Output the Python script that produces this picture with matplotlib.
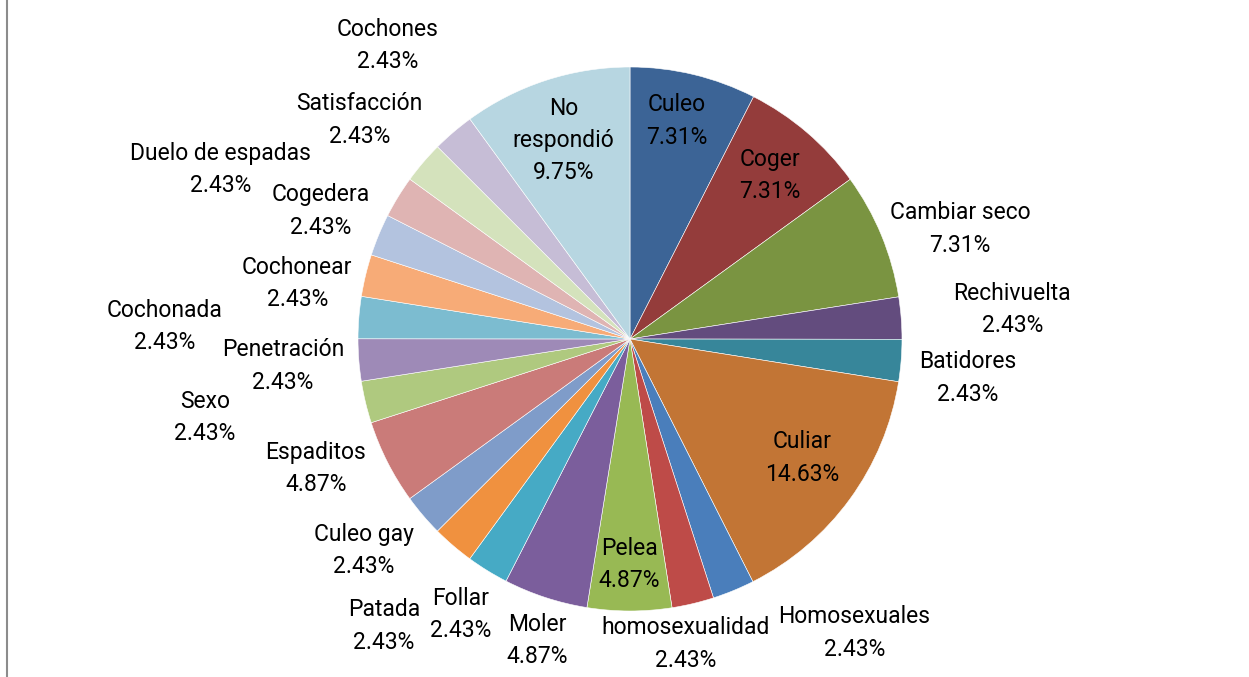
import math

import matplotlib
matplotlib.use("Agg")
import matplotlib.pyplot as plt
from matplotlib.lines import Line2D

# Survey answers (share of respondents, %), clockwise from 12 o'clock
labels = ["Culeo", "Coger", "Cambiar seco", "Rechivuelta", "Batidores", "Culiar",
          "Homosexuales", "homosexualidad", "Pelea", "Moler", "Follar", "Patada",
          "Culeo gay", "Espaditos", "Sexo", "Penetración", "Cochonada", "Cochonear",
          "Cogedera", "Duelo de espadas", "Satisfacción", "Cochones", "No respondió"]
values = [7.31, 7.31, 7.31, 2.43, 2.43, 14.63,
          2.43, 2.43, 4.87, 4.87, 2.43, 2.43,
          2.43, 4.87, 2.43, 2.43, 2.43, 2.43,
          2.43, 2.43, 2.43, 2.43, 9.75]

colors = ["#3C6496", "#943C3B", "#7A9441", "#634C7E", "#37869A", "#C27535",
          "#4A7EBB", "#BE4B48", "#98B954", "#7B5E9C", "#46AAC5", "#F0913F",
          "#7F9CC9", "#CA7B79", "#AFC97F", "#9E8AB7", "#7CBCD0", "#F7AB77",
          "#B3C3DF", "#DFB4B3", "#D4E2BC", "#C6BDD6", "#B7D6E1"]

# label placement: (radius as fraction of pie radius, angular nudge in degrees)
label_place = [(0.82, -1.5), (0.79, 0), (1.28, 4), (1.41, 0), (1.25, 2), (0.77, -1.5),
               (1.36, -15), (1.14, 3), (0.83, 0), (1.16, -1), (1.19, 0), (1.39, 0),
               (1.25, 2), (1.25, 4.5), (1.59, 3), (1.28, 0), (1.71, -3), (1.24, -4),
               (1.23, 0), (1.63, -9), (1.28, -1.5), (1.40, 1), (0.77, -0.5)]

W, H = 1249, 677
CX, CY, R = 630, H - 339, 272

plt.rcParams["font.family"] = ["Roboto", "DejaVu Sans"]

fig = plt.figure(figsize=(W / 100, H / 100), dpi=100, facecolor="white")
ax = fig.add_axes([0, 0, 1, 1])

wedges, _ = ax.pie(values, colors=colors, startangle=90, counterclock=False,
                   center=(CX, CY), radius=R,
                   wedgeprops=dict(edgecolor="white", linewidth=0.4))

for w, lab, val, (rf, nudge) in zip(wedges, labels, values, label_place):
    mid = math.radians((w.theta1 + w.theta2) / 2 - nudge)
    x = CX + rf * R * math.cos(mid)
    y = CY + rf * R * math.sin(mid)
    text = lab if lab != "No respondió" else "No\nrespondió"
    ax.text(x, y, f"{text}\n{val:.2f}%", ha="center", va="center",
            fontsize=16.5, color="black", linespacing=1.52)

ax.set_xlim(0, W)
ax.set_ylim(0, H)
ax.set_aspect("equal")
ax.axis("off")

# chart frame edge visible on the left
fig.add_artist(Line2D([7 / W, 7 / W], [0, 1], transform=fig.transFigure,
                      color="#8C8C8C", linewidth=1.5))

fig.savefig("out.png", dpi=100, facecolor="white")
